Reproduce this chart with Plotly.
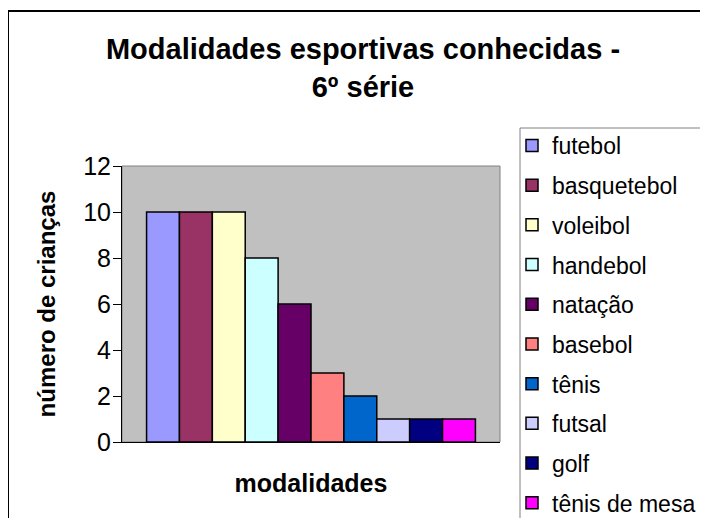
import plotly.graph_objects as go

# ---- data ----
modalidades = ["futebol", "basquetebol", "voleibol", "handebol", "natação",
               "basebol", "tênis", "futsal", "golf", "tênis de mesa"]
criancas = [10, 10, 10, 8, 6, 3, 2, 1, 1, 1]
cores = ["#9999FF", "#993366", "#FFFFCC", "#CCFFFF", "#660066",
         "#FF8080", "#0066CC", "#CCCCFF", "#000080", "#FF00FF"]
categoria = ["6º série"]
y_ticks = [0, 2, 4, 6, 8, 10, 12]

# page body margin offsets the figure by 8px
OFF = 8
W, H = 708 - OFF, 518 - OFF
L = 122 - OFF
T = 166 - OFF
R = W - (500 - OFF)
B = H - (442 - OFF)
pw, ph = W - L - R, H - T - B


def px_x(p):  # p: figure pixel x
    return (p - L) / pw


def px_y(p):  # p: figure pixel y
    return 1 + (T - p) / ph


FONT = "Liberation Sans, Arial, sans-serif"

fig = go.Figure()
for i, (nome, val, cor) in enumerate(zip(modalidades, criancas, cores)):
    fig.add_trace(go.Bar(
        x=categoria, y=[val], name=nome,
        marker=dict(color=cor, line=dict(color="black", width=1.5)),
        legendgroup=f"g{i}",
    ))

fig.update_layout(
    width=W, height=H,
    margin=dict(l=L, r=R, t=T, b=B, autoexpand=False),
    paper_bgcolor="white",
    plot_bgcolor="#C0C0C0",
    barmode="group", bargap=0.13, bargroupgap=0,
    font=dict(family=FONT, color="black"),
    title=dict(
        text="<b>Modalidades esportivas conhecidas -<br>6º série</b>",
        x=(363 - OFF) / W, xanchor="center", xref="container",
        y=1 - 51 / H, yanchor="top", yref="container",
        font=dict(size=29, family=FONT, color="black"),
    ),
    xaxis=dict(
        showticklabels=False, ticks="", showgrid=False, zeroline=False,
        showline=True, linecolor="black", linewidth=1,
        title=dict(text="<b>modalidades</b>", font=dict(size=25), standoff=32),
    ),
    yaxis=dict(
        range=[0, 12], tickvals=y_ticks, ticks="outside", ticklen=8,
        tickcolor="black", tickfont=dict(size=25), showgrid=False,
        zeroline=False, showline=True, linecolor="black", linewidth=1,
        ticklabelstandoff=-3,
        title=dict(text="<b>número de crianças</b>", font=dict(size=24), standoff=20),
    ),
    legend=dict(
        x=px_x(504), xanchor="left", y=px_y(116), yanchor="top",
        bgcolor="rgba(0,0,0,0)", borderwidth=0,
        font=dict(size=23, family=FONT), tracegroupgap=6.8,
        maxheight=900, itemclick=False,
    ),
    shapes=[
        # plot area border
        dict(type="rect", xref="paper", yref="paper", x0=0, x1=1, y0=0, y1=1,
             line=dict(color="#808080", width=1), layer="below"),
        # legend box
        dict(type="rect", xref="paper", yref="paper",
             x0=px_x(520 - OFF), x1=px_x(730), y0=px_y(540), y1=px_y(128 - OFF),
             line=dict(color="#808080", width=1)),
        # outer chart border
        dict(type="rect", xref="paper", yref="paper",
             x0=px_x(0), x1=px_x(740), y0=px_y(560), y1=px_y(11 - OFF),
             line=dict(color="black", width=2)),
    ],
    showlegend=True,
)

fig.write_html("out.html")
